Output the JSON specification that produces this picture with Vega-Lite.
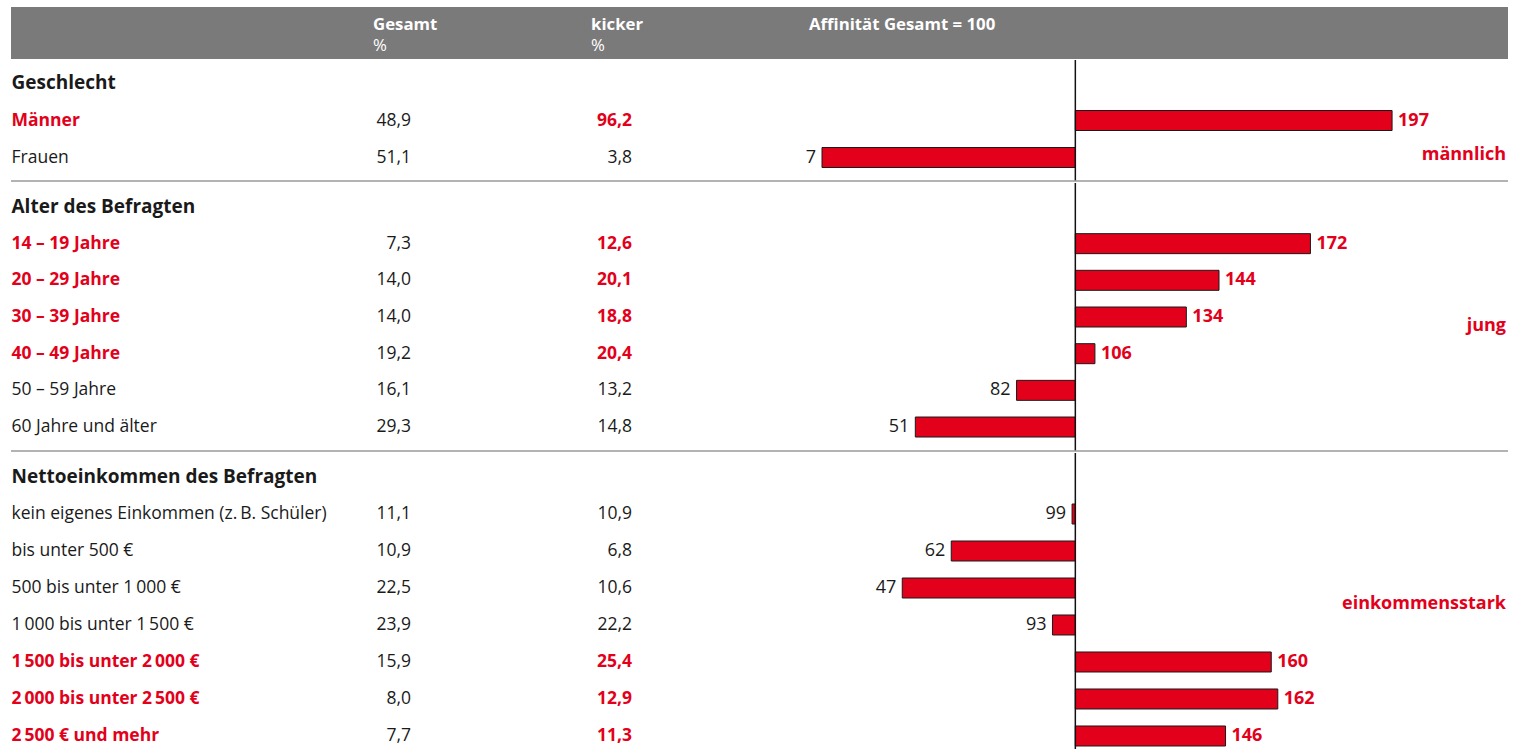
{
  "$schema": "https://vega.github.io/schema/vega-lite/v6.json",
  "padding": {"left": 10, "top": 7, "right": 10, "bottom": -8},
  "background": "white",
  "spacing": 0,
  "resolve": {"scale": {"x": "independent", "y": "independent"}},
  "config": {
    "view": {"stroke": null},
    "text": {"font": "Open Sans"},
    "locale": {"number": {"decimal": ",", "thousands": ".", "grouping": [3], "currency": ["", " €"]}}
  },
  "datasets": {
    "header": [
      {"col": "Gesamt", "t1": "Gesamt", "t2": "%"},
      {"col": "kicker", "t1": "kicker", "t2": "%"},
      {"col": "Affinität", "t1": "Affinität Gesamt = 100"}
    ],
    "rows": [
      {"sec": "g", "kind": "title", "label": "Geschlecht", "tag": "männlich"},
      {"sec": "g", "kind": "item", "label": "Männer", "gesamt": 48.9, "kicker": 96.2, "aff": 197, "hl": true},
      {"sec": "g", "kind": "item", "label": "Frauen", "gesamt": 51.1, "kicker": 3.8, "aff": 7, "hl": false},
      {"sec": "a", "kind": "title", "label": "Alter des Befragten", "tag": "jung"},
      {"sec": "a", "kind": "item", "label": "14 – 19 Jahre", "gesamt": 7.3, "kicker": 12.6, "aff": 172, "hl": true},
      {"sec": "a", "kind": "item", "label": "20 – 29 Jahre", "gesamt": 14.0, "kicker": 20.1, "aff": 144, "hl": true},
      {"sec": "a", "kind": "item", "label": "30 – 39 Jahre", "gesamt": 14.0, "kicker": 18.8, "aff": 134, "hl": true},
      {"sec": "a", "kind": "item", "label": "40 – 49 Jahre", "gesamt": 19.2, "kicker": 20.4, "aff": 106, "hl": true},
      {"sec": "a", "kind": "item", "label": "50 – 59 Jahre", "gesamt": 16.1, "kicker": 13.2, "aff": 82, "hl": false},
      {"sec": "a", "kind": "item", "label": "60 Jahre und älter", "gesamt": 29.3, "kicker": 14.8, "aff": 51, "hl": false},
      {"sec": "n", "kind": "title", "label": "Nettoeinkommen des Befragten", "tag": "einkommensstark"},
      {"sec": "n", "kind": "item", "label": "kein eigenes Einkommen (z.\u2009B. Schüler)", "gesamt": 11.1, "kicker": 10.9, "aff": 99, "hl": false},
      {"sec": "n", "kind": "item", "label": "bis unter 500 €", "gesamt": 10.9, "kicker": 6.8, "aff": 62, "hl": false},
      {"sec": "n", "kind": "item", "label": "500 bis unter 1\u2009000 €", "gesamt": 22.5, "kicker": 10.6, "aff": 47, "hl": false},
      {"sec": "n", "kind": "item", "label": "1\u2009000 bis unter 1\u2009500 €", "gesamt": 23.9, "kicker": 22.2, "aff": 93, "hl": false},
      {"sec": "n", "kind": "item", "label": "1\u2009500 bis unter 2\u2009000 €", "gesamt": 15.9, "kicker": 25.4, "aff": 160, "hl": true},
      {"sec": "n", "kind": "item", "label": "2\u2009000 bis unter 2\u2009500 €", "gesamt": 8.0, "kicker": 12.9, "aff": 162, "hl": true},
      {"sec": "n", "kind": "item", "label": "2\u2009500 € und mehr", "gesamt": 7.7, "kicker": 11.3, "aff": 146, "hl": true}
    ]
  },
  "vconcat": [
    {
      "width": 1497, "height": 52,
      "view": {"fill": "#7a7a7a", "stroke": null},
      "data": {"name": "header"},
      "encoding": {"x": {"field": "col", "type": "nominal", "axis": null, "scale": {"type": "point", "domain": ["Gesamt", "kicker", "Affinität"], "range": [362, 798], "padding": 0}}},
      "layer": [
        {"mark": {"type": "text", "align": "left", "baseline": "alphabetic", "dy": -3.5, "fontSize": 16.8, "fontWeight": "bold", "color": "white"}, "encoding": {"text": {"field": "t1"}}},
        {"transform": [{"filter": "datum.t2"}], "mark": {"type": "text", "align": "left", "baseline": "alphabetic", "dy": 17.5, "fontSize": 16.8, "color": "white"}, "encoding": {"text": {"field": "t2"}}}
      ]
    },
    {
      "hconcat": [
        {
          "width": 811, "height": 121,
          "data": {"name": "rows"},
          "transform": [{"filter": "datum.sec === 'g'"}],
          "resolve": {"scale": {"x": "independent"}},
          "layer": [
            {"transform": [{"filter": "datum.kind === 'title'"}], "mark": {"type": "text", "align": "left", "baseline": "middle", "fontSize": 19, "fontWeight": "bold", "color": "#1a1a1a"},
             "encoding": {"x": {"datum": "Merkmal", "type": "nominal", "axis": null, "scale": {"type": "point", "domain": ["Merkmal"], "range": [0, 1], "padding": 0}},
                          "y": {"field": "label", "type": "nominal", "axis": null, "scale": {"type": "band", "domain": ["Geschlecht", "Männer", "Frauen"], "paddingInner": 0, "paddingOuter": 0.135}},
                          "text": {"field": "label"}}},
            {"transform": [{"filter": "datum.kind === 'item' && datum.hl"}], "mark": {"type": "text", "align": "left", "baseline": "middle", "fontSize": 17.5, "fontWeight": "bold", "color": "#E2001A"},
             "encoding": {"x": {"datum": "Merkmal", "type": "nominal", "axis": null, "scale": {"type": "point", "domain": ["Merkmal"], "range": [0, 1], "padding": 0}},
                          "y": {"field": "label", "type": "nominal", "axis": null},
                          "text": {"field": "label"}}},
            {"transform": [{"filter": "datum.kind === 'item' && !datum.hl"}], "mark": {"type": "text", "align": "left", "baseline": "middle", "fontSize": 17.5, "color": "#1a1a1a"},
             "encoding": {"x": {"datum": "Merkmal", "type": "nominal", "axis": null, "scale": {"type": "point", "domain": ["Merkmal"], "range": [0, 1], "padding": 0}},
                          "y": {"field": "label", "type": "nominal", "axis": null},
                          "text": {"field": "label"}}},
            {"transform": [{"filter": "datum.kind === 'item'"}], "mark": {"type": "text", "align": "right", "baseline": "middle", "fontSize": 17.5, "color": "#1a1a1a"},
             "encoding": {"x": {"datum": "Gesamt", "type": "nominal", "axis": null, "scale": {"type": "point", "domain": ["Gesamt", "kicker"], "range": [400, 621], "padding": 0}},
                          "y": {"field": "label", "type": "nominal", "axis": null},
                          "text": {"field": "gesamt", "type": "quantitative", "format": ".1f"}}},
            {"transform": [{"filter": "datum.kind === 'item' && datum.hl"}], "mark": {"type": "text", "align": "right", "baseline": "middle", "fontSize": 17.5, "fontWeight": "bold", "color": "#E2001A"},
             "encoding": {"x": {"datum": "kicker", "type": "nominal", "axis": null, "scale": {"type": "point", "domain": ["Gesamt", "kicker"], "range": [400, 621], "padding": 0}},
                          "y": {"field": "label", "type": "nominal", "axis": null},
                          "text": {"field": "kicker", "type": "quantitative", "format": ".1f"}}},
            {"transform": [{"filter": "datum.kind === 'item' && !datum.hl"}], "mark": {"type": "text", "align": "right", "baseline": "middle", "fontSize": 17.5, "color": "#1a1a1a"},
             "encoding": {"x": {"datum": "kicker", "type": "nominal", "axis": null, "scale": {"type": "point", "domain": ["Gesamt", "kicker"], "range": [400, 621], "padding": 0}},
                          "y": {"field": "label", "type": "nominal", "axis": null},
                          "text": {"field": "kicker", "type": "quantitative", "format": ".1f"}}},
            {"transform": [{"filter": "datum.kind === 'title'"}], "mark": {"type": "rule", "color": "#9a9a9a", "strokeWidth": 1.5}, "encoding": {"y": {"value": "height"}}}
          ]
        },
        {
          "width": 686, "height": 121,
          "data": {"name": "rows"},
          "transform": [{"filter": "datum.sec === 'g'"}],
          "layer": [
            {"transform": [{"filter": "datum.kind === 'item'"}], "mark": {"type": "bar", "height": 20, "color": "#E2001A", "stroke": "#1a1a1a", "strokeWidth": 1},
             "encoding": {"x": {"field": "aff", "type": "quantitative", "axis": null, "scale": {"domain": [22.42, 232.5], "clamp": true, "nice": false, "zero": false}},
                          "x2": {"datum": 100},
                          "y": {"field": "label", "type": "nominal", "axis": null, "scale": {"type": "band", "domain": ["Geschlecht", "Männer", "Frauen"], "paddingInner": 0, "paddingOuter": 0.135}}}},
            {"transform": [{"filter": "datum.kind === 'title'"}], "mark": {"type": "rule", "color": "#111111", "strokeWidth": 1.5}, "encoding": {"x": {"datum": 100, "type": "quantitative"}}},
            {"transform": [{"filter": "datum.kind === 'item' && datum.aff >= 100"}], "mark": {"type": "text", "align": "left", "baseline": "middle", "dx": 6, "fontSize": 18, "fontWeight": "bold", "color": "#E2001A"},
             "encoding": {"x": {"field": "aff", "type": "quantitative"}, "y": {"field": "label", "type": "nominal", "axis": null}, "text": {"field": "aff"}}},
            {"transform": [{"filter": "datum.kind === 'item' && datum.aff < 100"}], "mark": {"type": "text", "align": "right", "baseline": "middle", "dx": -6, "fontSize": 18, "color": "#1a1a1a"},
             "encoding": {"x": {"field": "aff", "type": "quantitative"}, "y": {"field": "label", "type": "nominal", "axis": null}, "text": {"field": "aff"}}},
            {"transform": [{"filter": "datum.kind === 'title'"}], "mark": {"type": "text", "align": "right", "baseline": "middle", "dx": -2, "dy": -3, "fontSize": 18, "fontWeight": "bold", "color": "#E2001A"},
             "encoding": {"x": {"value": "width"}, "y": {"datum": "Frauen", "type": "nominal"}, "text": {"field": "tag"}}},
            {"transform": [{"filter": "datum.kind === 'title'"}], "mark": {"type": "rule", "color": "#9a9a9a", "strokeWidth": 1.5}, "encoding": {"y": {"value": "height"}}}
          ]
        }
      ],
      "spacing": 0,
      "bounds": "flush"
    },
    {
      "hconcat": [
        {
          "width": 811, "height": 268,
          "data": {"name": "rows"},
          "transform": [{"filter": "datum.sec === 'a'"}],
          "resolve": {"scale": {"x": "independent"}},
          "layer": [
            {"transform": [{"filter": "datum.kind === 'title'"}], "mark": {"type": "text", "align": "left", "baseline": "middle", "fontSize": 19, "fontWeight": "bold", "color": "#1a1a1a"},
             "encoding": {"x": {"datum": "Merkmal", "type": "nominal", "axis": null, "scale": {"type": "point", "domain": ["Merkmal"], "range": [0, 1], "padding": 0}},
                          "y": {"field": "label", "type": "nominal", "axis": null, "scale": {"type": "band", "domain": ["Alter des Befragten", "14 – 19 Jahre", "20 – 29 Jahre", "30 – 39 Jahre", "40 – 49 Jahre", "50 – 59 Jahre", "60 Jahre und älter"], "paddingInner": 0, "paddingOuter": 0.154}},
                          "text": {"field": "label"}}},
            {"transform": [{"filter": "datum.kind === 'item' && datum.hl"}], "mark": {"type": "text", "align": "left", "baseline": "middle", "fontSize": 17.5, "fontWeight": "bold", "color": "#E2001A"},
             "encoding": {"x": {"datum": "Merkmal", "type": "nominal", "axis": null, "scale": {"type": "point", "domain": ["Merkmal"], "range": [0, 1], "padding": 0}},
                          "y": {"field": "label", "type": "nominal", "axis": null},
                          "text": {"field": "label"}}},
            {"transform": [{"filter": "datum.kind === 'item' && !datum.hl"}], "mark": {"type": "text", "align": "left", "baseline": "middle", "fontSize": 17.5, "color": "#1a1a1a"},
             "encoding": {"x": {"datum": "Merkmal", "type": "nominal", "axis": null, "scale": {"type": "point", "domain": ["Merkmal"], "range": [0, 1], "padding": 0}},
                          "y": {"field": "label", "type": "nominal", "axis": null},
                          "text": {"field": "label"}}},
            {"transform": [{"filter": "datum.kind === 'item'"}], "mark": {"type": "text", "align": "right", "baseline": "middle", "fontSize": 17.5, "color": "#1a1a1a"},
             "encoding": {"x": {"datum": "Gesamt", "type": "nominal", "axis": null, "scale": {"type": "point", "domain": ["Gesamt", "kicker"], "range": [400, 621], "padding": 0}},
                          "y": {"field": "label", "type": "nominal", "axis": null},
                          "text": {"field": "gesamt", "type": "quantitative", "format": ".1f"}}},
            {"transform": [{"filter": "datum.kind === 'item' && datum.hl"}], "mark": {"type": "text", "align": "right", "baseline": "middle", "fontSize": 17.5, "fontWeight": "bold", "color": "#E2001A"},
             "encoding": {"x": {"datum": "kicker", "type": "nominal", "axis": null, "scale": {"type": "point", "domain": ["Gesamt", "kicker"], "range": [400, 621], "padding": 0}},
                          "y": {"field": "label", "type": "nominal", "axis": null},
                          "text": {"field": "kicker", "type": "quantitative", "format": ".1f"}}},
            {"transform": [{"filter": "datum.kind === 'item' && !datum.hl"}], "mark": {"type": "text", "align": "right", "baseline": "middle", "fontSize": 17.5, "color": "#1a1a1a"},
             "encoding": {"x": {"datum": "kicker", "type": "nominal", "axis": null, "scale": {"type": "point", "domain": ["Gesamt", "kicker"], "range": [400, 621], "padding": 0}},
                          "y": {"field": "label", "type": "nominal", "axis": null},
                          "text": {"field": "kicker", "type": "quantitative", "format": ".1f"}}},
            {"transform": [{"filter": "datum.kind === 'title'"}], "mark": {"type": "rule", "color": "#9a9a9a", "strokeWidth": 1.5}, "encoding": {"y": {"value": "height"}}}
          ]
        },
        {
          "width": 686, "height": 268,
          "data": {"name": "rows"},
          "transform": [{"filter": "datum.sec === 'a'"}],
          "layer": [
            {"transform": [{"filter": "datum.kind === 'item'"}], "mark": {"type": "bar", "height": 20, "color": "#E2001A", "stroke": "#1a1a1a", "strokeWidth": 1},
             "encoding": {"x": {"field": "aff", "type": "quantitative", "axis": null, "scale": {"domain": [22.42, 232.5], "clamp": true, "nice": false, "zero": false}},
                          "x2": {"datum": 100},
                          "y": {"field": "label", "type": "nominal", "axis": null, "scale": {"type": "band", "domain": ["Alter des Befragten", "14 – 19 Jahre", "20 – 29 Jahre", "30 – 39 Jahre", "40 – 49 Jahre", "50 – 59 Jahre", "60 Jahre und älter"], "paddingInner": 0, "paddingOuter": 0.154}}}},
            {"transform": [{"filter": "datum.kind === 'title'"}], "mark": {"type": "rule", "color": "#111111", "strokeWidth": 1.5}, "encoding": {"x": {"datum": 100, "type": "quantitative"}}},
            {"transform": [{"filter": "datum.kind === 'item' && datum.aff >= 100"}], "mark": {"type": "text", "align": "left", "baseline": "middle", "dx": 6, "fontSize": 18, "fontWeight": "bold", "color": "#E2001A"},
             "encoding": {"x": {"field": "aff", "type": "quantitative"}, "y": {"field": "label", "type": "nominal", "axis": null}, "text": {"field": "aff"}}},
            {"transform": [{"filter": "datum.kind === 'item' && datum.aff < 100"}], "mark": {"type": "text", "align": "right", "baseline": "middle", "dx": -6, "fontSize": 18, "color": "#1a1a1a"},
             "encoding": {"x": {"field": "aff", "type": "quantitative"}, "y": {"field": "label", "type": "nominal", "axis": null}, "text": {"field": "aff"}}},
            {"transform": [{"filter": "datum.kind === 'title'"}], "mark": {"type": "text", "align": "right", "baseline": "middle", "dx": -2, "dy": 9, "fontSize": 18, "fontWeight": "bold", "color": "#E2001A"},
             "encoding": {"x": {"value": "width"}, "y": {"datum": "30 – 39 Jahre", "type": "nominal"}, "text": {"field": "tag"}}},
            {"transform": [{"filter": "datum.kind === 'title'"}], "mark": {"type": "rule", "color": "#9a9a9a", "strokeWidth": 1.5}, "encoding": {"y": {"value": "height"}}}
          ]
        }
      ],
      "spacing": 0,
      "bounds": "flush"
    },
    {
      "hconcat": [
        {
          "width": 811, "height": 307,
          "data": {"name": "rows"},
          "transform": [{"filter": "datum.sec === 'n'"}],
          "resolve": {"scale": {"x": "independent"}},
          "layer": [
            {"transform": [{"filter": "datum.kind === 'title'"}], "mark": {"type": "text", "align": "left", "baseline": "middle", "fontSize": 19, "fontWeight": "bold", "color": "#1a1a1a"},
             "encoding": {"x": {"datum": "Merkmal", "type": "nominal", "axis": null, "scale": {"type": "point", "domain": ["Merkmal"], "range": [0, 1], "padding": 0}},
                          "y": {"field": "label", "type": "nominal", "axis": null, "scale": {"type": "band", "domain": ["Nettoeinkommen des Befragten", "kein eigenes Einkommen (z.\u2009B. Schüler)", "bis unter 500 €", "500 bis unter 1\u2009000 €", "1\u2009000 bis unter 1\u2009500 €", "1\u2009500 bis unter 2\u2009000 €", "2\u2009000 bis unter 2\u2009500 €", "2\u2009500 € und mehr"], "paddingInner": 0, "paddingOuter": 0.149}},
                          "text": {"field": "label"}}},
            {"transform": [{"filter": "datum.kind === 'item' && datum.hl"}], "mark": {"type": "text", "align": "left", "baseline": "middle", "fontSize": 17.5, "fontWeight": "bold", "color": "#E2001A"},
             "encoding": {"x": {"datum": "Merkmal", "type": "nominal", "axis": null, "scale": {"type": "point", "domain": ["Merkmal"], "range": [0, 1], "padding": 0}},
                          "y": {"field": "label", "type": "nominal", "axis": null},
                          "text": {"field": "label"}}},
            {"transform": [{"filter": "datum.kind === 'item' && !datum.hl"}], "mark": {"type": "text", "align": "left", "baseline": "middle", "fontSize": 17.5, "color": "#1a1a1a"},
             "encoding": {"x": {"datum": "Merkmal", "type": "nominal", "axis": null, "scale": {"type": "point", "domain": ["Merkmal"], "range": [0, 1], "padding": 0}},
                          "y": {"field": "label", "type": "nominal", "axis": null},
                          "text": {"field": "label"}}},
            {"transform": [{"filter": "datum.kind === 'item'"}], "mark": {"type": "text", "align": "right", "baseline": "middle", "fontSize": 17.5, "color": "#1a1a1a"},
             "encoding": {"x": {"datum": "Gesamt", "type": "nominal", "axis": null, "scale": {"type": "point", "domain": ["Gesamt", "kicker"], "range": [400, 621], "padding": 0}},
                          "y": {"field": "label", "type": "nominal", "axis": null},
                          "text": {"field": "gesamt", "type": "quantitative", "format": ".1f"}}},
            {"transform": [{"filter": "datum.kind === 'item' && datum.hl"}], "mark": {"type": "text", "align": "right", "baseline": "middle", "fontSize": 17.5, "fontWeight": "bold", "color": "#E2001A"},
             "encoding": {"x": {"datum": "kicker", "type": "nominal", "axis": null, "scale": {"type": "point", "domain": ["Gesamt", "kicker"], "range": [400, 621], "padding": 0}},
                          "y": {"field": "label", "type": "nominal", "axis": null},
                          "text": {"field": "kicker", "type": "quantitative", "format": ".1f"}}},
            {"transform": [{"filter": "datum.kind === 'item' && !datum.hl"}], "mark": {"type": "text", "align": "right", "baseline": "middle", "fontSize": 17.5, "color": "#1a1a1a"},
             "encoding": {"x": {"datum": "kicker", "type": "nominal", "axis": null, "scale": {"type": "point", "domain": ["Gesamt", "kicker"], "range": [400, 621], "padding": 0}},
                          "y": {"field": "label", "type": "nominal", "axis": null},
                          "text": {"field": "kicker", "type": "quantitative", "format": ".1f"}}}
          ]
        },
        {
          "width": 686, "height": 307,
          "data": {"name": "rows"},
          "transform": [{"filter": "datum.sec === 'n'"}],
          "layer": [
            {"transform": [{"filter": "datum.kind === 'item'"}], "mark": {"type": "bar", "height": 20, "color": "#E2001A", "stroke": "#1a1a1a", "strokeWidth": 1},
             "encoding": {"x": {"field": "aff", "type": "quantitative", "axis": null, "scale": {"domain": [22.42, 232.5], "clamp": true, "nice": false, "zero": false}},
                          "x2": {"datum": 100},
                          "y": {"field": "label", "type": "nominal", "axis": null, "scale": {"type": "band", "domain": ["Nettoeinkommen des Befragten", "kein eigenes Einkommen (z.\u2009B. Schüler)", "bis unter 500 €", "500 bis unter 1\u2009000 €", "1\u2009000 bis unter 1\u2009500 €", "1\u2009500 bis unter 2\u2009000 €", "2\u2009000 bis unter 2\u2009500 €", "2\u2009500 € und mehr"], "paddingInner": 0, "paddingOuter": 0.149}}}},
            {"transform": [{"filter": "datum.kind === 'title'"}], "mark": {"type": "rule", "color": "#111111", "strokeWidth": 1.5}, "encoding": {"x": {"datum": 100, "type": "quantitative"}}},
            {"transform": [{"filter": "datum.kind === 'item' && datum.aff >= 100"}], "mark": {"type": "text", "align": "left", "baseline": "middle", "dx": 6, "fontSize": 18, "fontWeight": "bold", "color": "#E2001A"},
             "encoding": {"x": {"field": "aff", "type": "quantitative"}, "y": {"field": "label", "type": "nominal", "axis": null}, "text": {"field": "aff"}}},
            {"transform": [{"filter": "datum.kind === 'item' && datum.aff < 100"}], "mark": {"type": "text", "align": "right", "baseline": "middle", "dx": -6, "fontSize": 18, "color": "#1a1a1a"},
             "encoding": {"x": {"field": "aff", "type": "quantitative"}, "y": {"field": "label", "type": "nominal", "axis": null}, "text": {"field": "aff"}}},
            {"transform": [{"filter": "datum.kind === 'title'"}], "mark": {"type": "text", "align": "right", "baseline": "middle", "dx": -2, "dy": 16, "fontSize": 18, "fontWeight": "bold", "color": "#E2001A"},
             "encoding": {"x": {"value": "width"}, "y": {"datum": "500 bis unter 1\u2009000 €", "type": "nominal"}, "text": {"field": "tag"}}}
          ]
        }
      ],
      "spacing": 0,
      "bounds": "flush"
    }
  ]
}
